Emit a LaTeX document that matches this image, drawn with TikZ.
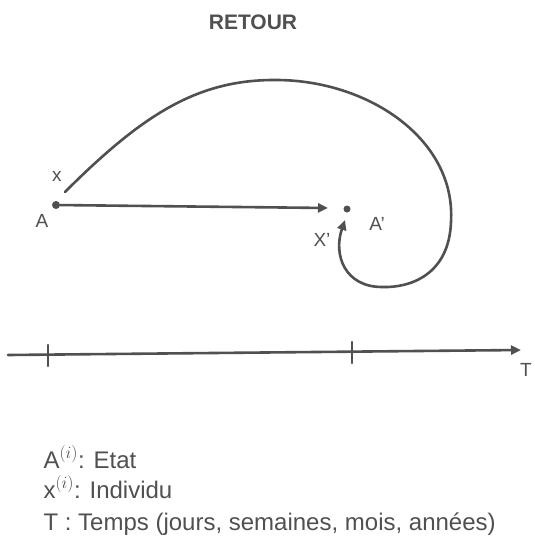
\documentclass[tikz,border=0pt]{standalone}
\usepackage{fontspec}
\setmainfont{Liberation Sans}
\usetikzlibrary{arrows.meta}
\definecolor{pencil}{RGB}{80,80,80}
\tikzset{
  pen/.style={draw=pencil, line width=2.6pt, line cap=round},
  dotnode/.style={circle, fill=pencil, inner sep=0pt, minimum size=8pt},
  lbl/.style={text=pencil, font=\fontsize{19}{22}\selectfont},
  legend/.style={text=pencil, anchor=base west, font=\fontsize{24}{28}\selectfont},
  tip/.style={-{Triangle[length=10pt,width=9pt]}}
}
\begin{document}
\begin{tikzpicture}[x=1pt,y=-1pt]
\useasboundingbox (0,0) rectangle (535,544);
\node[lbl, font=\fontsize{21}{24}\bfseries\selectfont] (title) at (253,22) {RETOUR};
% points
\node[dotnode] (A) at (56,205) {};
\node[dotnode, minimum size=7pt] (Ap) at (347,209) {};
\node[lbl] (Alab) at (42,221) {A};
\node[lbl] (xlab) at (57,176) {x};
\node[lbl] (Aplab) at (377,224) {A'};
\node[lbl] (xplab) at (322,240) {X'};
% horizontal arrow
\coordinate (Aend) at (328,208);
\draw[pen, tip] (A) -- (Aend);
% return curve
\coordinate (c0) at (65,192);
\coordinate (c2) at (278,80);
\coordinate (c4) at (451,222);
\coordinate (c6) at (382,287);
\coordinate (c8) at (345,220);
\draw[pen, tip] (c0) .. controls (145,112) and (200,79) .. (c2)
  .. controls (370,81) and (456,140) .. (c4)
  .. controls (449,275) and (410,288) .. (c6)
  .. controls (345,287) and (333,255) .. (c8);
% time axis
\coordinate (t0) at (8,355);
\coordinate (t1) at (521,350);
\draw[pen, tip] (t0) -- (t1);
\coordinate (k1a) at (48,345); \coordinate (k1b) at (48,366);
\coordinate (k2a) at (352,342); \coordinate (k2b) at (352,363);
\draw[pen] (k1a) -- (k1b);
\draw[pen] (k2a) -- (k2b);
\node[lbl] (Tlab) at (526,370) {T};
% legend
\node[legend] (l1) at (40,468) {A$^{(i)}$: Etat};
\node[legend] (l2) at (40,498) {x$^{(i)}$: Individu};
\node[legend] (l3) at (40,530) {T : Temps (jours, semaines, mois, années)};
\end{tikzpicture}
\end{document}
